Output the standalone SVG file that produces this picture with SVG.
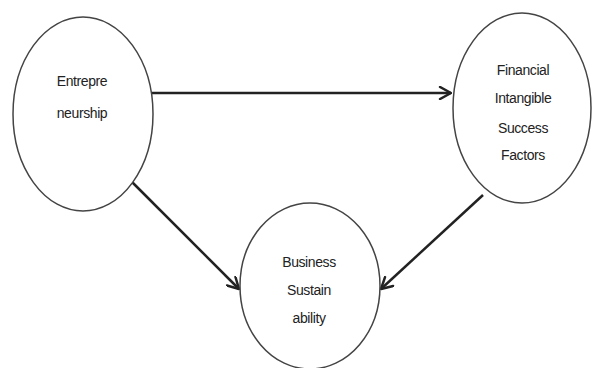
<svg xmlns="http://www.w3.org/2000/svg" width="592" height="368" viewBox="0 0 592 368">
<style>
.node{fill:#fff;stroke:#444;stroke-width:1.5}
.lbl{font-family:"Liberation Sans",Arial,sans-serif;font-size:14px;fill:#222;text-anchor:middle;letter-spacing:-0.4px}
.conn{stroke:#222;stroke-width:2.5;fill:none;marker-end:url(#arr)}
</style>
<defs>
<marker id="arr" viewBox="0 0 14 14" refX="13" refY="7" markerWidth="14" markerHeight="14" markerUnits="userSpaceOnUse" orient="auto">
<path d="M2,1 L13,7 L2,13" fill="none" stroke="#222" stroke-width="2.5" stroke-linecap="round" stroke-linejoin="round"/>
</marker>
</defs>
<rect width="592" height="368" fill="#fff"/>
<g id="connectors">
<line class="conn" x1="152" y1="93" x2="451" y2="93"/>
<line class="conn" x1="130" y1="180" x2="239" y2="289"/>
<line class="conn" x1="483" y1="195" x2="381" y2="289"/>
</g>
<g id="entrepreneurship">
<ellipse class="node" cx="83" cy="114" rx="70" ry="97"/>
<text class="lbl" x="82" y="86">Entrepre</text>
<text class="lbl" x="82" y="118">neurship</text>
</g>
<g id="financial">
<ellipse class="node" cx="522" cy="108" rx="69" ry="95"/>
<text class="lbl" x="523" y="75">Financial</text>
<text class="lbl" x="523" y="103">Intangible</text>
<text class="lbl" x="523" y="133">Success</text>
<text class="lbl" x="523" y="160">Factors</text>
</g>
<g id="business">
<ellipse class="node" cx="310" cy="286" rx="70" ry="83"/>
<text class="lbl" x="309" y="267">Business</text>
<text class="lbl" x="309" y="295">Sustain</text>
<text class="lbl" x="309" y="323">ability</text>
</g>
</svg>
